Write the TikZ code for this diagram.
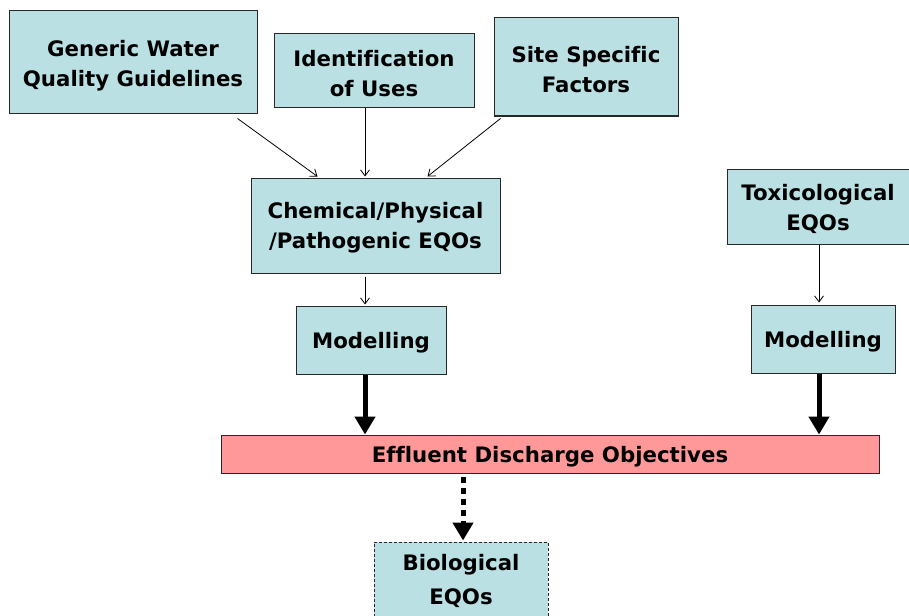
\documentclass[tikz,border=0pt]{standalone}
\usepackage{fontspec}
\setmainfont{DejaVu Sans}[Ligatures={NoCommon}]
\usetikzlibrary{arrows.meta,calc}
\definecolor{boxblue}{RGB}{186,224,227}
\definecolor{boxpink}{RGB}{255,153,153}
\definecolor{edge}{RGB}{40,40,40}
\tikzset{
  box/.style={draw=edge, line width=1pt, fill=boxblue, rectangle, inner sep=0pt},
  txt/.style={inner sep=0pt, align=center, font=\fontsize{21.3}{30}\selectfont\bfseries},
  thinarrow/.style={draw=black, line width=0.8pt, -{Straight Barb[length=6pt,width=9pt]}},
  thickarrow/.style={draw=black, line width=5pt, -{Triangle[length=18pt,width=20pt]}},
  dotarrow/.style={draw=black, line width=5pt, dash pattern=on 6pt off 5pt, -{Triangle[length=18pt,width=20pt]}}
}
\begin{document}
\begin{tikzpicture}[x=1pt,y=-1pt]
\useasboundingbox (0,0) rectangle (909,615);
% top row
\node[box, minimum width=248pt, minimum height=103pt] (gen) at (133,62.5) {};
\node[txt] (genT) at ([yshift=-3pt]gen.center) {Generic Water\\Quality Guidelines};
\node[box, minimum width=200pt, minimum height=74pt] (uses) at (374,71) {};
\node[txt] (usesT) at ([yshift=-3pt]uses.center) {Identification\\of Uses};
\node[box, minimum width=184pt, minimum height=98pt] (site) at (586,67) {};
\node[txt] (siteT) at ([yshift=-3pt]site.center) {Site Specific\\Factors};
% middle
\node[box, minimum width=249pt, minimum height=95pt] (chem) at (375.5,225.5) {};
\node[txt] (chemT) at ([yshift=-2pt]chem.center) {Chemical/Physical\\/Pathogenic EQOs};
\node[box, minimum width=182pt, minimum height=75pt] (tox) at (818,206.5) {};
\node[txt] (toxT) at ([yshift=-2pt]tox.center) {Toxicological\\EQOs};
\node[box, minimum width=150pt, minimum height=68pt] (modL) at (371,340) {};
\node[txt] (modLT) at ([yshift=-3pt]modL.center) {Modelling};
\node[box, minimum width=144pt, minimum height=68pt] (modR) at (823,339) {};
\node[txt] (modRT) at ([yshift=-3pt]modR.center) {Modelling};
% discharge bar
\node[box, fill=boxpink, minimum width=658pt, minimum height=38pt] (eff) at (550,454) {};
\node[txt] (effT) at ([yshift=-3pt]eff.center) {Effluent Discharge Objectives};
% biological (runs off the bottom edge)
\node[box, dashed, dash pattern=on 3pt off 2pt, minimum width=174pt, minimum height=90pt] (bio) at (461,587) {};
\node[txt, font=\fontsize{21.3}{34}\selectfont\bfseries] (bioT) at ([yshift=6pt]bio.center) {Biological\\EQOs};
% connectors
\draw[thinarrow] ([xshift=-20pt,yshift=-4pt]gen.south east) -- ([xshift=67pt,yshift=1pt]chem.north west);
\draw[thinarrow] ([xshift=-9pt,yshift=0pt]uses.south) -- ([xshift=-10.5pt,yshift=1pt]chem.north);
\draw[thinarrow] ([xshift=7pt,yshift=-2pt]site.south west) -- ([xshift=-73pt,yshift=1pt]chem.north east);
\draw[thinarrow] ([xshift=-10.5pt,yshift=-3pt]chem.south) -- ([xshift=-6pt,yshift=1pt]modL.north);
\draw[thinarrow] ([xshift=1pt]tox.south) -- ([xshift=-4pt,yshift=2pt]modR.north);
\draw[thickarrow] ([xshift=-6pt]modL.south) -- ([xshift=-185pt]eff.north);
\draw[thickarrow] ([xshift=-4pt]modR.south) -- ([xshift=269pt]eff.north);
\draw[dotarrow] ([xshift=-87pt,yshift=-3pt]eff.south) -- ([xshift=2pt,yshift=1pt]bio.north);
\end{tikzpicture}
\end{document}
